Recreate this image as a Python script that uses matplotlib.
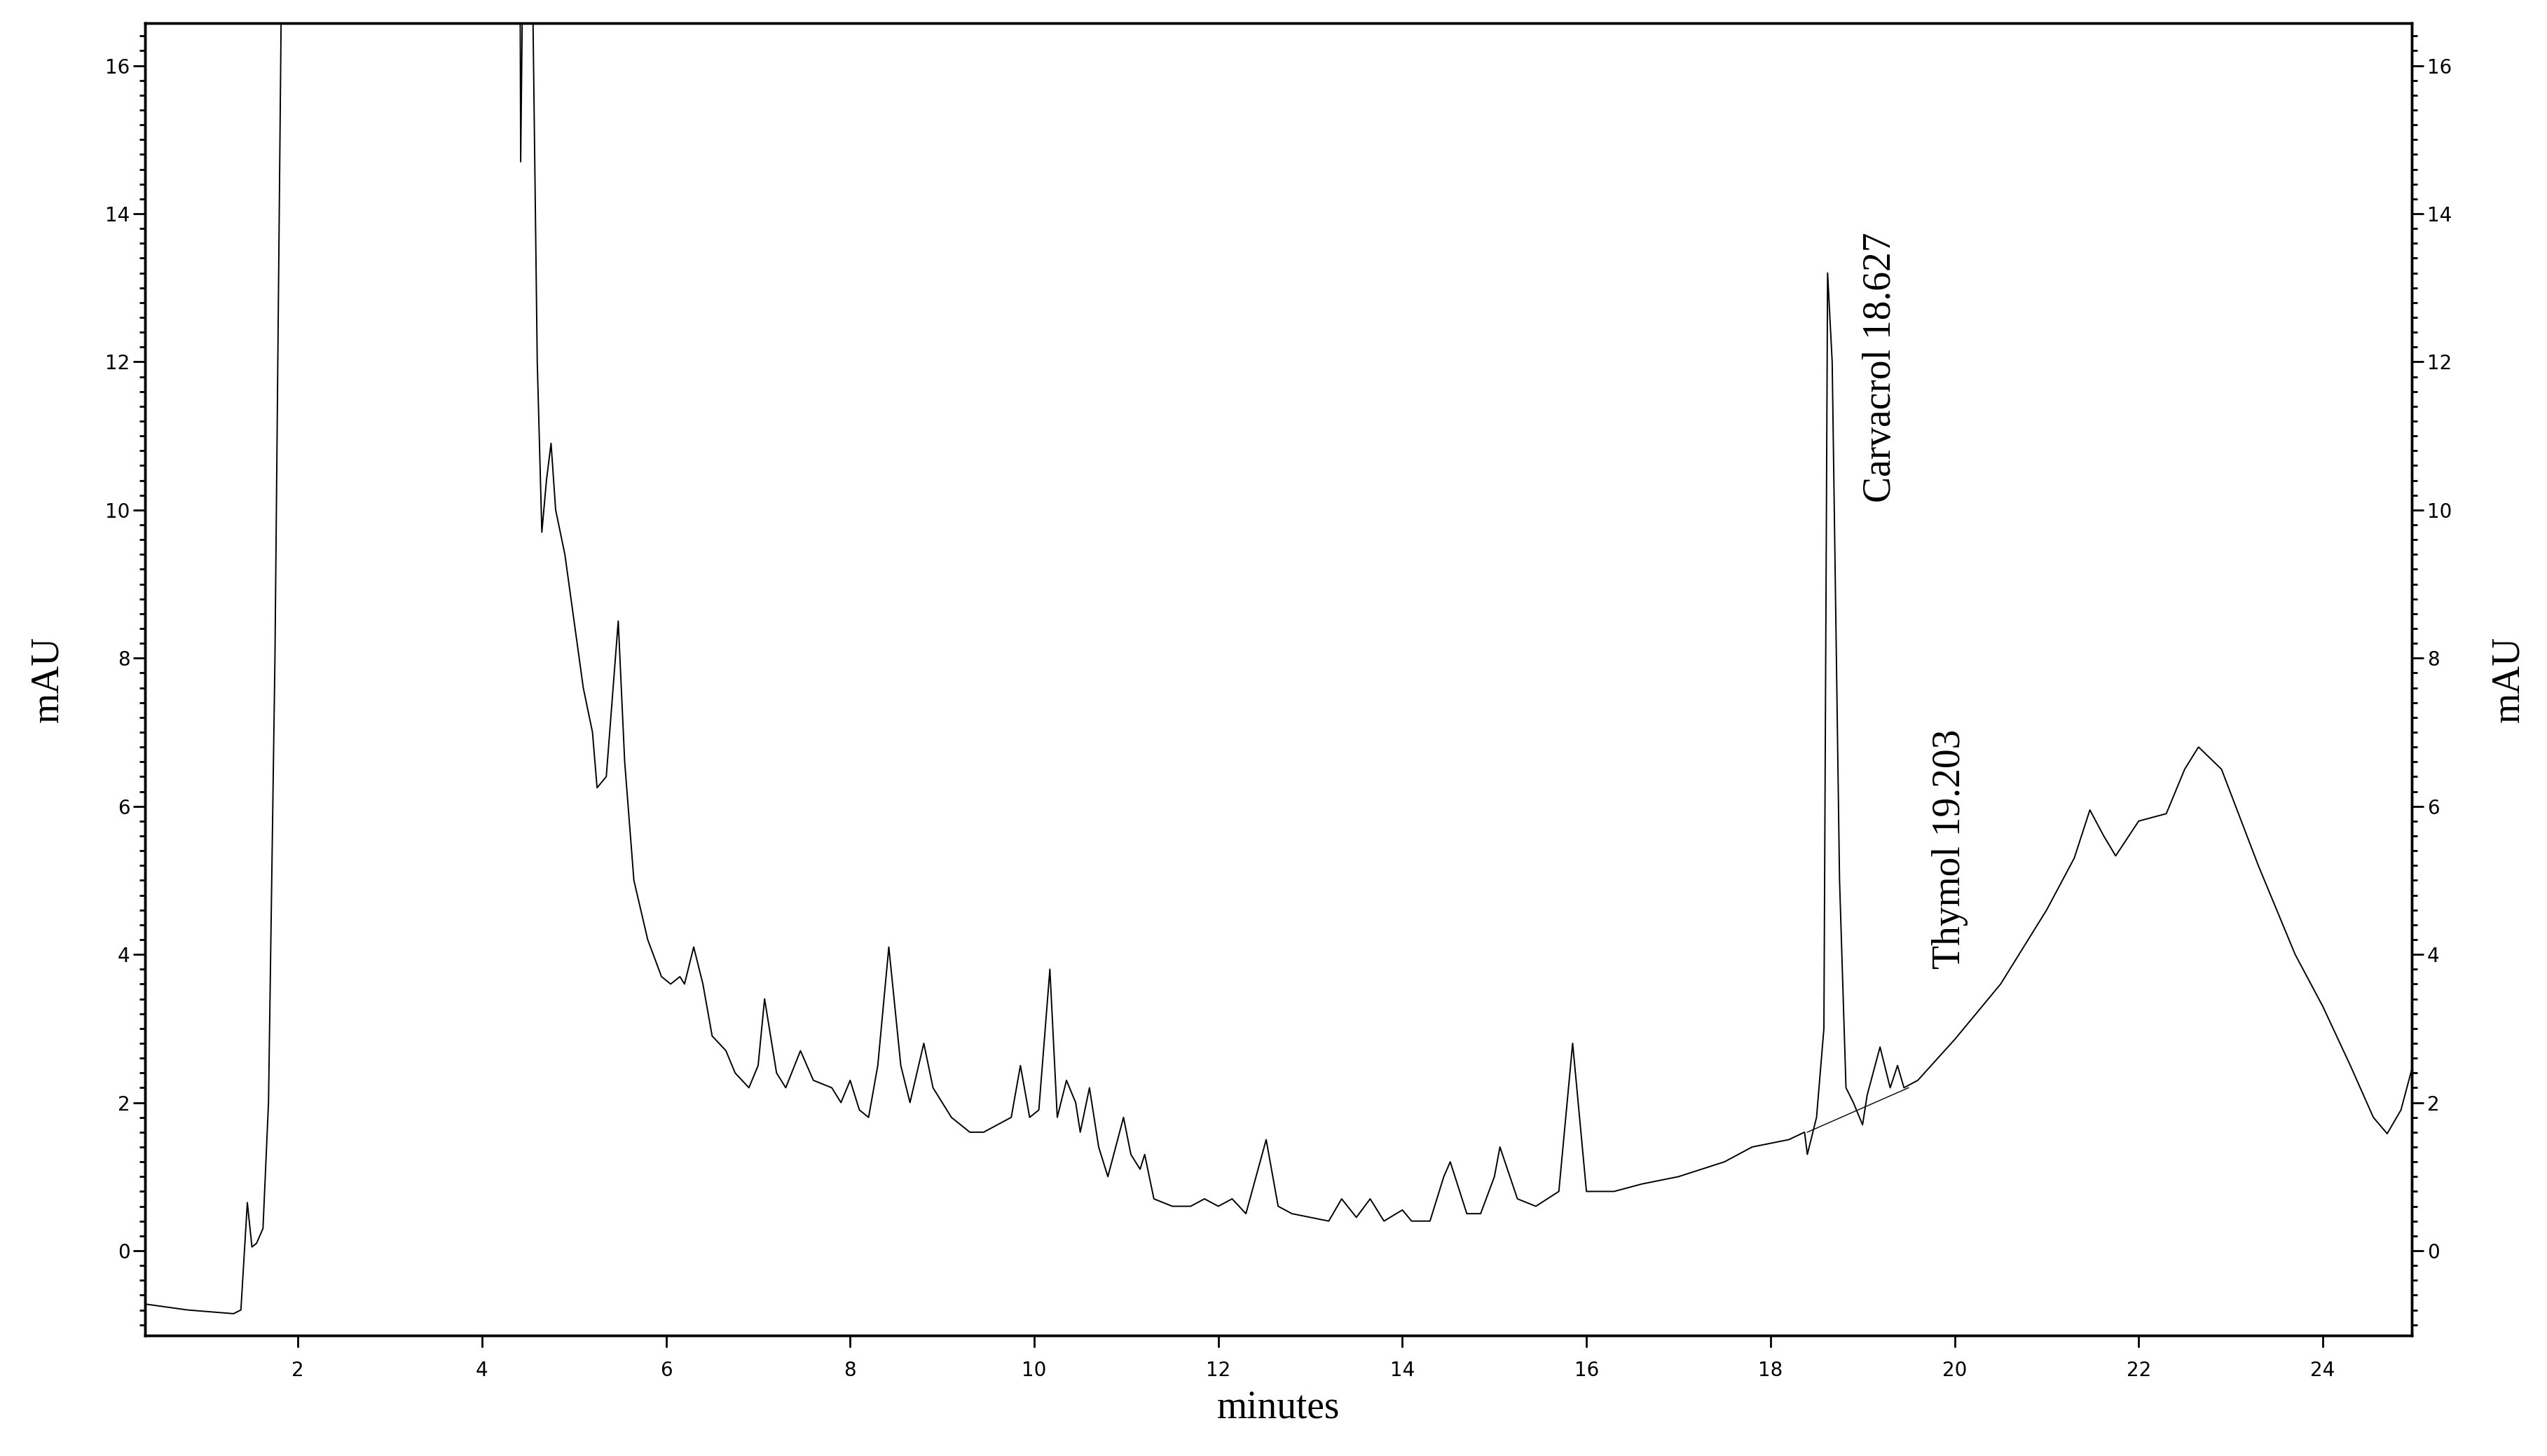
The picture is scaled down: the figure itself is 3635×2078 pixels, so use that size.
import numpy as np
import matplotlib.pyplot as plt
from matplotlib.ticker import MultipleLocator

# chromatogram trace (minutes, mAU)
time = [0.34, 0.8, 1.3, 1.38, 1.45, 1.5, 1.55, 1.62, 1.68, 1.75, 1.82, 1.88, 2.0,
        4.3, 4.42, 4.44, 4.47, 4.55, 4.6, 4.65, 4.7, 4.75, 4.8, 4.9, 5.0, 5.1, 5.2, 5.25,
        5.35, 5.48, 5.55, 5.65, 5.8, 5.95, 6.05, 6.15, 6.2, 6.3, 6.4, 6.5, 6.65, 6.75,
        6.9, 7.0, 7.07, 7.2, 7.3, 7.46, 7.6, 7.8, 7.9, 8.0, 8.1, 8.2, 8.3, 8.42, 8.55,
        8.65, 8.8, 8.9, 9.1, 9.3, 9.45, 9.6, 9.75, 9.85, 9.95, 10.05, 10.17, 10.25,
        10.35, 10.45, 10.5, 10.6, 10.7, 10.8, 10.97, 11.05, 11.15, 11.2, 11.3, 11.5,
        11.7, 11.85, 12.0, 12.15, 12.3, 12.52, 12.65, 12.8, 13.0, 13.2, 13.34, 13.5,
        13.65, 13.8, 14.0, 14.1, 14.3, 14.45, 14.52, 14.7, 14.85, 15.0, 15.06, 15.25,
        15.45, 15.7, 15.85, 16.0, 16.3, 16.6, 17.0, 17.5, 17.8, 18.2, 18.37, 18.4,
        18.5, 18.58, 18.62, 18.67, 18.75, 18.82, 18.9, 19.0, 19.05, 19.19, 19.3, 19.38,
        19.45, 19.6, 20.0, 20.5, 21.0, 21.3, 21.47, 21.62, 21.75, 22.0, 22.3, 22.5, 22.65,
        22.9, 23.3, 23.7, 24.0, 24.3, 24.55, 24.7, 24.85, 25.0]
mau = [-0.72, -0.8, -0.85, -0.8, 0.65, 0.05, 0.1, 0.3, 2.0, 8.0, 17.0, 60.0, 60.0,
       60.0, 14.7, 17.0, 17.0, 17.0, 12.0, 9.7, 10.4, 10.9, 10.0, 9.4, 8.5, 7.6, 7.0, 6.25,
       6.4, 8.5, 6.6, 5.0, 4.2, 3.7, 3.6, 3.7, 3.6, 4.1, 3.6, 2.9, 2.7, 2.4,
       2.2, 2.5, 3.4, 2.4, 2.2, 2.7, 2.3, 2.2, 2.0, 2.3, 1.9, 1.8, 2.5, 4.1, 2.5,
       2.0, 2.8, 2.2, 1.8, 1.6, 1.6, 1.7, 1.8, 2.5, 1.8, 1.9, 3.8, 1.8,
       2.3, 2.0, 1.6, 2.2, 1.4, 1.0, 1.8, 1.3, 1.1, 1.3, 0.7, 0.6,
       0.6, 0.7, 0.6, 0.7, 0.5, 1.5, 0.6, 0.5, 0.45, 0.4, 0.7, 0.45,
       0.7, 0.4, 0.55, 0.4, 0.4, 1.0, 1.2, 0.5, 0.5, 1.0, 1.4, 0.7,
       0.6, 0.8, 2.8, 0.8, 0.8, 0.9, 1.0, 1.2, 1.4, 1.5, 1.6, 1.3,
       1.8, 3.0, 13.2, 12.0, 5.0, 2.2, 2.0, 1.7, 2.1, 2.75, 2.2, 2.5,
       2.2, 2.3, 2.85, 3.6, 4.6, 5.3, 5.95, 5.6, 5.33, 5.8, 5.9, 6.5, 6.8,
       6.5, 5.2, 4.0, 3.3, 2.5, 1.8, 1.58, 1.9, 2.6]

# integration baseline under the carvacrol / thymol peaks
base_t = [18.4, 19.5]
base_y = [1.6, 2.2]

peak_names = ["Carvacrol 18.627", "Thymol 19.203"]
peak_x = [19.2, 19.95]
peak_y = [10.1, 3.8]

fig = plt.figure(figsize=(36.35, 20.78), dpi=100)
ax = fig.add_axes([0.057, 0.083, 0.890, 0.901])
ax.plot(time, mau, color="black", lw=1.4)
ax.plot(base_t, base_y, color="black", lw=1.0)
ax.set_xlim(0.34, 24.97)
ax.set_ylim(-1.14, 16.57)

for name, x, y in zip(peak_names, peak_x, peak_y):
    ax.text(x, y, name, rotation=90, ha="center", va="bottom",
            family="Liberation Serif", fontsize=40)

ax.xaxis.set_major_locator(MultipleLocator(2))
ax.yaxis.set_major_locator(MultipleLocator(2))
ax.yaxis.set_minor_locator(MultipleLocator(0.2))
ax.set_xlabel("minutes", family="Liberation Serif", fontsize=40, labelpad=10)
ax.set_ylabel("mAU", family="Liberation Serif", fontsize=40, labelpad=40)

ax2 = ax.twinx()
ax2.set_ylim(ax.get_ylim())
ax2.yaxis.set_major_locator(MultipleLocator(2))
ax2.yaxis.set_minor_locator(MultipleLocator(0.2))
ax2.set_ylabel("mAU", family="Liberation Serif", fontsize=40, labelpad=40)

for a in (ax, ax2):
    a.tick_params(which="major", length=12, width=2, labelsize=20, direction="out")
    a.tick_params(which="minor", length=6, width=2, direction="out")
    for s in a.spines.values():
        s.set_linewidth(2.5)
ax.tick_params(axis="x", pad=14)

fig.savefig("out.png", dpi=100)
